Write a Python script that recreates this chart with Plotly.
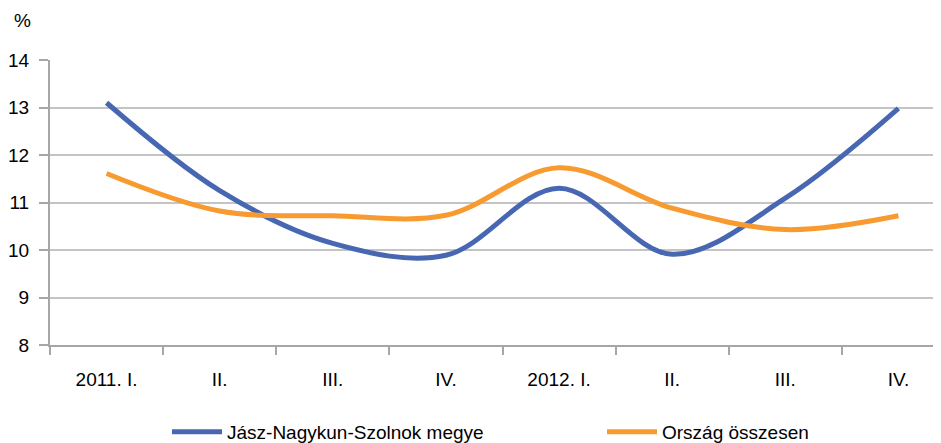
import plotly.graph_objects as go

categories = ["2011. I.", "II.", "III.", "IV.", "2012. I.", "II.", "III.", "IV."]
county = [13.1, 11.25, 10.14, 9.89, 11.3, 9.91, 11.09, 12.98]
country = [11.61, 10.82, 10.72, 10.73, 11.73, 10.88, 10.43, 10.72]
series_names = ["Jász-Nagykun-Szolnok megye", "Ország összesen"]
y_ticks = [8, 9, 10, 11, 12, 13, 14]

FONT = "Liberation Sans, Arial, sans-serif"
x = list(range(len(categories)))

fig = go.Figure()
fig.add_trace(go.Scatter(x=x, y=county, name=series_names[0], mode="lines",
                         line=dict(color="#4767B3", width=5, shape="spline", smoothing=1)))
fig.add_trace(go.Scatter(x=x, y=country, name=series_names[1], mode="lines",
                         line=dict(color="#F79B30", width=5, shape="spline", smoothing=1)))

# the page body has an 8px margin; the plot area continues beyond the right edge
W, H = 933, 435
n = len(categories)
right = -0.5 + n * (891 / 905)

fig.update_layout(
    width=W, height=H,
    margin=dict(l=42, r=0, t=52, b=98, autoexpand=False),
    paper_bgcolor="white", plot_bgcolor="white",
    font=dict(family=FONT, size=19, color="#000000"),
    showlegend=True,
    legend=dict(orientation="h", xref="container", yref="container",
                x=159 / W, xanchor="left", y=(H - 424) / H, yanchor="middle",
                font=dict(family=FONT, size=19), entrywidth=370, entrywidthmode="pixels",
                traceorder="normal", itemwidth=50, bgcolor="rgba(0,0,0,0)"),
    xaxis=dict(range=[-0.5, right], tickmode="array", tickvals=x, ticktext=categories,
               ticks="", showgrid=False, zeroline=False, automargin=False,
               showline=True, linecolor="#A6A6A6", linewidth=2,
               ticklabelstandoff=16, tickfont=dict(size=19),
               minor=dict(tickmode="array", tickvals=[i - 0.5 for i in range(n + 1)],
                          ticks="outside", ticklen=8, tickcolor="#A6A6A6", tickwidth=2,
                          showgrid=False)),
    yaxis=dict(range=[8, 14], tickmode="array", tickvals=y_ticks, automargin=False,
               ticks="outside", ticklen=9, tickcolor="#A6A6A6", tickwidth=2,
               showgrid=True, gridcolor="#C4C4C4", gridwidth=1.5, zeroline=False,
               showline=True, linecolor="#A6A6A6", linewidth=2,
               ticklabelstandoff=6, tickfont=dict(size=19)),
)
fig.add_annotation(text="%", xref="paper", yref="paper", x=-0.043, y=1.14,
                   xanchor="left", yanchor="middle", showarrow=False,
                   font=dict(family=FONT, size=19))

fig.write_html("out.html")
